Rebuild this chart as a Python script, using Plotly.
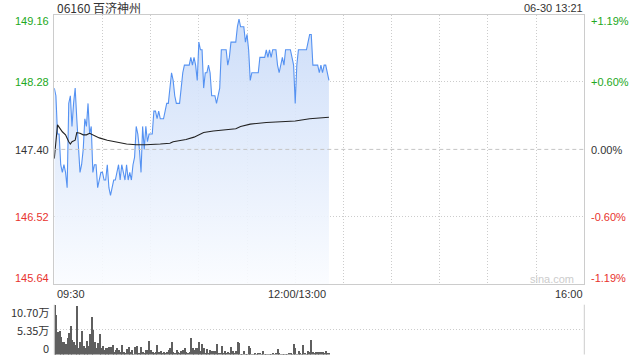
import plotly.graph_objects as go

# ---------------- data ----------------
title_text = "06160 百济神州"
stamp_text = "06-30 13:21"
prev_close = 147.40
price_ticks = [149.16, 148.28, 147.40, 146.52, 145.64]
pct_ticks = ["+1.19%", "+0.60%", "0.00%", "-0.60%", "-1.19%"]
vol_ticks = [10.70, 5.35, 0]
vol_tick_text = ["10.70万", "5.35万", "0"]
x_tick_pos = [0, 150, 330]
x_tick_text = ["09:30", "12:00/13:00", "16:00"]

prices = [
    148.2, 148.1, 147.6, 147.6, 147.2, 147.1, 147.2, 147.1, 146.9, 148.0,
    148.1, 147.7, 148.0, 148.2, 147.8, 147.4, 147.1, 147.2, 147.4, 147.8,
    147.7, 148.0, 147.6, 147.7, 147.1, 147.2, 147.2, 146.9, 147.0, 147.1,
    147.1,
    147.0, 147.0, 147.2, 146.9, 146.8, 146.9, 147.0, 147.0, 147.1, 147.2,
    147.0, 147.2, 147.1, 147.0, 147.2, 147.0, 147.1, 147.0, 147.2, 147.3,
    147.7, 147.6, 147.4, 147.1, 147.7, 147.4, 147.7, 147.5, 147.6, 147.6,
    147.6,
    147.9, 147.9, 147.8, 147.9, 147.8, 147.8, 147.8, 147.9, 148.0, 148.0,
    148.2, 148.4, 148.3, 148.1, 148.0, 148.0, 148.0, 148.2, 148.4, 148.5,
    148.5, 148.5, 148.5,
    148.6, 148.5, 148.6, 148.5, 148.3, 148.8, 148.7, 148.7,
    148.2, 148.4, 148.4, 148.5, 148.4, 148.1, 148.1, 148.1, 148.0, 148.1,
    148.2, 148.7, 148.7, 148.7, 148.7,
    148.5, 148.6, 148.8, 148.8, 148.8, 148.8,
    149.0, 149.1, 149.0, 149.0, 149.0, 148.8, 148.9, 148.7, 148.3, 148.4,
    148.4, 148.4, 148.4,
    148.4, 148.6, 148.6, 148.6, 148.6, 148.7, 148.6, 148.7,
    148.6, 148.7, 148.7, 148.7, 148.5, 148.4, 148.5, 148.6, 148.5, 148.7,
    148.7, 148.7, 148.7,
    148.6, 148.5, 148.0, 148.5, 148.7, 148.7, 148.7, 148.7,
    148.7, 148.7, 148.8, 148.9, 148.9, 148.5, 148.5, 148.5, 148.5,
    148.4, 148.5, 148.4, 148.5, 148.5, 148.4, 148.3,
]

avg_minutes = [0, 2, 5, 7, 9, 10, 11, 13, 14, 16, 18, 20, 22, 24, 26, 28, 33, 39,
               45, 51, 57, 66, 72, 74, 82, 87, 93, 99, 107, 113, 116, 122, 132,
               143, 150, 159, 171]
avg_values = [147.28, 147.72, 147.63, 147.59, 147.50, 147.47, 147.50, 147.52,
              147.62, 147.61, 147.59, 147.59, 147.61, 147.59, 147.57, 147.55,
              147.52, 147.49, 147.47, 147.46, 147.46, 147.47, 147.48, 147.50,
              147.53, 147.56, 147.62, 147.64, 147.66, 147.67, 147.70, 147.73,
              147.75, 147.76, 147.77, 147.80, 147.82]

volumes = [
    10.7, 8.56, 5.0, 5.1, 3.9, 2.7, 2.7, 2.3, 3.6, 4.6,
    6.1, 3.1, 2.85, 2.0, 10.5, 1.4, 2.85, 5.1, 1.8, 1.4,
    3.0, 1.8, 4.4, 8.2, 5.3, 2.7, 1.4, 2.5, 4.4, 1.4,
    1.8, 1.1, 1.4, 1.4, 1.6, 1.6, 2.0, 0.7, 1.1, 1.4,
    1.1, 0.6, 2.0, 0.7, 0.35, 1.3, 1.6, 0.6, 1.1, 0.15,
    1.6, 1.8, 0.35, 0.35, 1.6, 0.7, 0.35, 1.1, 1.1, 3.0,
    1.1, 0.6, 0.35, 0.7, 2.0, 0.6, 0.85, 0.35, 0.6, 0.35,
    0.6, 1.1, 1.4, 2.85, 0.7, 0.35, 1.1, 0.6, 0.35, 0.85,
    1.1, 1.4, 0.7, 0.35,
    0.7, 3.7, 1.4, 1.1, 1.4, 1.4, 2.7, 0.85, 2.3, 1.4,
    0.35, 1.2, 0.35, 1.1, 0.85, 0.85, 0.85, 2.3, 0.35, 0.35,
    1.8, 0.35, 0.9, 0.35, 0.6, 0.35, 1.6, 0.85, 0.35, 0.85,
    2.85, 2.5, 0.15, 0.15, 0.9, 0.15, 0.15, 1.8, 1.4, 0.15,
    0.15, 0.35, 0.15, 0.35, 0.35, 0.15, 0.9, 0.15, 0.15, 0.1,
    0.15, 0.15, 0.35, 0.15, 0.35, 1.2, 0.35, 0.15, 0.15, 0.15,
    0.15, 0.15, 0.35, 0.35, 0.15, 2.3, 1.4, 0.15, 0.85, 0.35,
    0.15, 2.0, 0.35, 0.15, 0.85, 0.6, 3.1, 0.7, 0.35, 0.6,
    0.6, 0.6, 0.6, 0.6, 0.35, 0.85, 0.35, 0.35,
]

# ---------------- styling / layout constants ----------------
W, H = 640, 360
PX_L, PX_R = 54.3, 584.3
MAIN_TOP, MAIN_BOT = 14.5, 284.3
VOL_TOP, VOL_BOT = 304.7, 354.5


def fx(px):
    return px / W


def fy(py):
    return 1 - py / H


GREEN = "#22a822"
RED = "#e8332e"
BLACK = "#333333"
GRID = "#cccccc"
DOT = "1px,2px"
FONT = "Liberation Sans, Arial, sans-serif"
CJK = "Noto Sans CJK SC, Liberation Sans, sans-serif"

minutes = list(range(len(prices)))
vol_minutes = list(range(len(volumes)))
ymin, ymax = price_ticks[-1], price_ticks[0]

fig = go.Figure()

# baseline for area fill
fig.add_trace(go.Scatter(x=minutes, y=[ymin] * len(minutes), mode="lines",
                         line=dict(width=0), hoverinfo="skip", showlegend=False,
                         xaxis="x", yaxis="y"))
fig.add_trace(go.Scatter(
    x=minutes, y=prices, mode="lines",
    line=dict(color="#5592f2", width=1.1),
    fill="tonexty",
    fillgradient=dict(type="vertical",
                      colorscale=[[0, "rgba(250,252,255,0.9)"], [1, "rgba(200,218,248,0.9)"]]),
    hoverinfo="skip", showlegend=False, xaxis="x", yaxis="y"))
fig.add_trace(go.Scatter(x=avg_minutes, y=avg_values, mode="lines",
                         line=dict(color="#222222", width=1.1),
                         hoverinfo="skip", showlegend=False, xaxis="x", yaxis="y"))
fig.add_trace(go.Bar(x=vol_minutes, y=volumes, width=0.62,
                     marker=dict(color="#5f5f5f", line=dict(width=0)),
                     hoverinfo="skip", showlegend=False, xaxis="x2", yaxis="y2"))

fig.update_layout(
    width=W, height=H, margin=dict(l=0, r=0, t=0, b=0),
    paper_bgcolor="white", plot_bgcolor="white",
    font=dict(family=FONT, size=11, color=BLACK),
    bargap=0,
    xaxis=dict(domain=[fx(PX_L), fx(PX_R)], range=[0, 330], tick0=0, dtick=30,
               showgrid=True, gridcolor=GRID, griddash=DOT, gridwidth=1,
               showticklabels=False, ticks="", zeroline=False,
               showline=True, mirror=True, linecolor="#cccccc", linewidth=1),
    yaxis=dict(domain=[fy(MAIN_BOT), fy(MAIN_TOP)], range=[ymin, ymax],
               tickvals=[price_ticks[1], price_ticks[3]],
               showgrid=True, gridcolor=GRID, griddash=DOT, gridwidth=1,
               showticklabels=False, ticks="", zeroline=False,
               showline=True, mirror=True, linecolor="#cccccc", linewidth=1),
    xaxis2=dict(domain=[fx(PX_L), fx(PX_R)], range=[-0.5, 330], showgrid=False,
                showticklabels=False, ticks="", zeroline=False, showline=False),
    yaxis2=dict(domain=[fy(VOL_BOT), fy(VOL_TOP)], range=[0, vol_ticks[0]],
                tickvals=vol_ticks, showgrid=True, gridcolor=GRID, griddash=DOT,
                gridwidth=1, showticklabels=False, ticks="", zeroline=False,
                showline=False),
)

shapes = [
    # dashed previous-close line
    dict(type="line", xref="x domain", yref="y", x0=0, x1=1, y0=prev_close, y1=prev_close,
         line=dict(color="#c4c4c4", width=1, dash="4px,3px")),
    # volume panel side borders
    dict(type="line", xref="x2 domain", yref="y2 domain", x0=0, x1=0, y0=0, y1=1,
         line=dict(color="#cccccc", width=1)),
    dict(type="line", xref="x2 domain", yref="y2 domain", x0=1, x1=1, y0=0, y1=1,
         line=dict(color="#cccccc", width=1)),
]
fig.update_layout(shapes=shapes)

ann = []
left_colors = [GREEN, GREEN, BLACK, RED, RED]
label_py = [20.7, 82.0, 149.5, 217.3, 278.3]
for val, pct, col, py in zip(price_ticks, pct_ticks, left_colors, label_py):
    ann.append(dict(xref="paper", yref="paper", x=fx(51), y=fy(py), text=f"{val:.2f}",
                    showarrow=False, xanchor="right", yanchor="middle",
                    font=dict(color=col, size=11, family=FONT)))
    ann.append(dict(xref="paper", yref="paper", x=fx(589), y=fy(py), text=pct,
                    showarrow=False, xanchor="left", yanchor="middle",
                    font=dict(color=col, size=11, family=FONT)))

vol_label_py = [311.7, 330.0, 348.3]
for txt, py in zip(vol_tick_text, vol_label_py):
    ann.append(dict(xref="paper", yref="paper", x=fx(51), y=fy(py), text=txt,
                    showarrow=False, xanchor="right", yanchor="middle",
                    font=dict(color=BLACK, size=11, family=CJK)))

x_anchors = ["left", "center", "right"]
x_px = [55, 297, 584.5]
for txt, anc, px in zip(x_tick_text, x_anchors, x_px):
    ann.append(dict(xref="paper", yref="paper", x=fx(px), y=fy(293.5), text=txt,
                    showarrow=False, xanchor=anc, yanchor="middle",
                    font=dict(color=BLACK, size=11, family=FONT)))

ann.append(dict(xref="paper", yref="paper", x=fx(55), y=fy(7), text=title_text,
                showarrow=False, xanchor="left", yanchor="middle",
                font=dict(color=BLACK, size=12, family=CJK)))
ann.append(dict(xref="paper", yref="paper", x=fx(584.5), y=fy(7.5), text=stamp_text,
                showarrow=False, xanchor="right", yanchor="middle",
                font=dict(color=BLACK, size=11, family=FONT)))
ann.append(dict(xref="paper", yref="paper", x=fx(552), y=fy(279), text="sina.com",
                showarrow=False, xanchor="center", yanchor="middle",
                font=dict(color="#cccccc", size=11, family=FONT)))
fig.update_layout(annotations=ann)

fig.write_html("out.html")
